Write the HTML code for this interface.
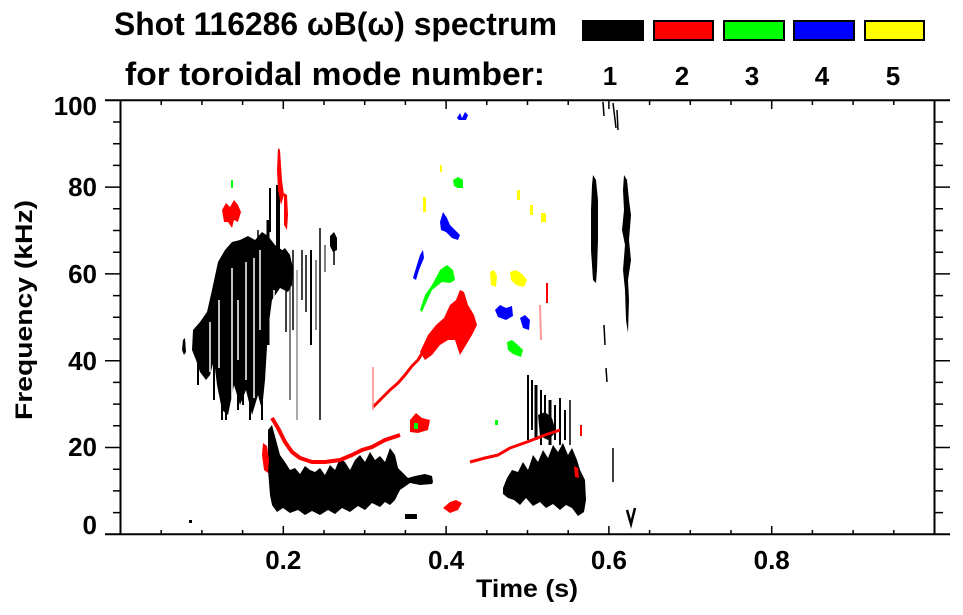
<!DOCTYPE html>
<html><head><meta charset="utf-8"><style>
html,body{margin:0;padding:0;background:#fff;}
svg{display:block;}
text{font-family:"Liberation Sans",Arial,Helvetica,sans-serif;font-weight:bold;fill:#000;}
</style></head><body>
<svg width="963" height="615" viewBox="0 0 963 615" xmlns="http://www.w3.org/2000/svg">
<rect width="963" height="615" fill="#fff"/>
<!-- Title -->
<text x="114" y="35" font-size="32" textLength="443" lengthAdjust="spacingAndGlyphs">Shot 116286 ωB(ω) spectrum</text>
<text x="125" y="85" font-size="32" textLength="420" lengthAdjust="spacingAndGlyphs">for toroidal mode number:</text>
<!-- Legend -->
<rect x="582" y="20" width="62" height="21" fill="#000"/>
<rect x="654" y="21" width="59" height="19" fill="#f00" stroke="#000" stroke-width="2"/>
<rect x="724" y="21" width="60" height="19" fill="#0f0" stroke="#000" stroke-width="2"/>
<rect x="794" y="21" width="60" height="19" fill="#00f" stroke="#000" stroke-width="2"/>
<rect x="865" y="21" width="59" height="19" fill="#ff0" stroke="#000" stroke-width="2"/>
<g font-size="26" text-anchor="middle">
<text x="610" y="85">1</text><text x="682" y="85">2</text><text x="752" y="85">3</text><text x="822" y="85">4</text><text x="893" y="85">5</text>
</g>

<!-- DATA -->
<g>
<!-- Black big streaky region C -->
<polygon fill="#000" points="193,330 200,322 207,312 212,290 218,262 225,250 232,242 240,240 248,236 255,240 262,232 268,236 275,245 282,250 288,258 292,280 288,292 280,288 272,300 268,330 265,380 262,410 258,395 252,415 246,390 240,405 234,385 228,415 222,410 217,385 214,360 210,375 206,380 200,372 196,360 192,350"/>
<polygon fill="#000" points="183,340 185,338 186,352 184,355 182,350"/>
<g stroke="#fff" stroke-width="1.5">
<line x1="210" y1="322" x2="210" y2="372"/><line x1="219" y1="300" x2="219" y2="368"/>
<line x1="232" y1="268" x2="232" y2="398"/><line x1="246" y1="262" x2="246" y2="380"/>
<line x1="254" y1="258" x2="254" y2="398"/><line x1="260" y1="250" x2="260" y2="330"/>
<line x1="238" y1="300" x2="238" y2="360"/><line x1="274" y1="290" x2="274" y2="330"/>
</g>
<g stroke="#000" fill="none">
<line x1="198" y1="350" x2="198" y2="385" stroke-width="2"/>
<line x1="214" y1="300" x2="214" y2="400" stroke-width="2"/>
<line x1="222" y1="380" x2="222" y2="420" stroke-width="2"/>
<line x1="226" y1="260" x2="226" y2="420" stroke-width="2"/>
<line x1="238" y1="390" x2="238" y2="410" stroke-width="2"/>
<line x1="243" y1="370" x2="243" y2="405" stroke-width="2"/>
<line x1="250" y1="390" x2="250" y2="420" stroke-width="2"/>
<line x1="262" y1="330" x2="262" y2="420" stroke-width="2"/>
<line x1="268" y1="220" x2="268" y2="345" stroke-width="3"/>
<line x1="270" y1="188" x2="270" y2="232" stroke-width="2"/>
<line x1="278" y1="185" x2="278" y2="252" stroke-width="4"/>
<line x1="286" y1="290" x2="286" y2="332" stroke-width="1.5"/>
<line x1="290" y1="265" x2="290" y2="400" stroke-width="1"/>
<line x1="293" y1="250" x2="293" y2="330" stroke-width="1.5"/>
<line x1="297" y1="270" x2="297" y2="420" stroke-width="1" stroke="#555"/>
<line x1="302" y1="250" x2="302" y2="300" stroke-width="1.5"/>
<line x1="306" y1="255" x2="306" y2="312" stroke-width="1.5"/>
<line x1="311" y1="250" x2="311" y2="345" stroke-width="2"/>
<line x1="316" y1="260" x2="316" y2="330" stroke-width="1"/>
<line x1="320" y1="228" x2="320" y2="420" stroke-width="1.5"/>
<line x1="325" y1="245" x2="325" y2="272" stroke-width="1"/>
<line x1="334" y1="240" x2="334" y2="265" stroke-width="1.5"/>
<line x1="258" y1="230" x2="258" y2="250" stroke-width="1.5"/>
</g>
<polygon fill="#000" points="280,252 285,248 290,255 293,268 292,285 288,292 282,288 280,270"/>
<polygon fill="#000" points="330,236 334,232 337,238 337,250 333,252 330,246"/>

<!-- Black low blob A -->
<polygon fill="#000" points="268,430 272,425 276,440 280,455 285,462 290,470 295,468 300,474 305,466 310,470 315,472 320,468 325,475 330,465 335,470 340,458 345,462 350,470 355,460 360,455 365,462 370,452 375,460 380,456 385,462 390,448 395,455 398,468 403,473 408,478 415,476 425,474 432,476 433,482 432,484 420,485 410,483 400,490 395,500 390,505 385,502 380,507 372,503 365,510 358,506 350,512 342,508 335,514 328,510 320,515 312,511 305,515 298,510 290,513 283,508 277,512 272,505 270,495 268,470"/>
<!-- Black low blob B -->
<polygon fill="#000" points="503,488 507,478 512,470 518,472 523,462 528,470 533,455 538,462 543,450 548,458 553,445 558,452 563,443 568,455 572,448 577,460 580,470 585,480 586,500 584,512 578,516 572,508 566,505 560,510 553,504 546,508 540,502 533,506 526,498 520,505 514,500 508,498 503,494"/>
<g stroke="#000" fill="none">
<line x1="528" y1="375" x2="528" y2="440" stroke-width="2"/>
<line x1="532" y1="380" x2="532" y2="430" stroke-width="2"/>
<line x1="536" y1="385" x2="536" y2="440" stroke-width="3"/>
<line x1="541" y1="390" x2="541" y2="445" stroke-width="2"/>
<line x1="545" y1="395" x2="545" y2="430" stroke-width="2"/>
<line x1="550" y1="400" x2="550" y2="445" stroke-width="3"/>
<line x1="555" y1="405" x2="555" y2="440" stroke-width="2"/>
<line x1="560" y1="398" x2="560" y2="445" stroke-width="2"/>
<line x1="565" y1="410" x2="565" y2="440" stroke-width="2"/>
<line x1="570" y1="400" x2="570" y2="445" stroke-width="1.5"/>
</g>
<polygon fill="#000" points="538,415 545,412 552,418 556,432 548,440 540,436"/>
<!-- small black bits -->
<rect x="405" y="514" width="12" height="5" fill="#000"/>
<rect x="189" y="520" width="3" height="3" fill="#000"/>

<!-- Black right side -->
<polygon fill="#000" points="593,175 596,180 598,200 598,240 597,270 596,283 593,280 591,250 591,210 592,185"/>
<polygon fill="#000" points="624,175 627,180 629,200 631,215 629,240 631,260 628,280 629,300 628,333 626,320 625,290 623,270 625,245 622,230 624,210 623,190"/>
<g stroke="#000" fill="none" stroke-width="1.5">
<line x1="603" y1="102" x2="604" y2="116"/>
<line x1="613" y1="103" x2="616" y2="128"/>
<line x1="617" y1="110" x2="618" y2="130"/>
<line x1="604" y1="325" x2="605" y2="345"/>
<line x1="606" y1="368" x2="607" y2="382"/>
<line x1="613" y1="448" x2="613" y2="482"/>
<path d="M627,510 L631,524 L635,508" stroke-width="2.5"/>
</g>

<!-- RED -->
<g fill="#f00">
<polygon points="222,210 226,203 230,207 234,200 238,205 241,212 238,222 234,220 232,228 228,222 224,222"/>
<polygon points="278,148 280,150 281,165 282,180 284,195 281,205 278,190 277,170"/>
<polygon points="284,193 287,195 288,215 287,230 284,225"/>
<polygon points="263,443 267,446 269,460 268,473 264,470 262,455"/>
<polygon points="410,420 416,413 422,418 430,420 428,430 418,433 410,432"/>
<polygon points="420,352 428,335 436,325 444,318 450,305 456,300 460,290 464,292 468,305 474,315 477,325 472,335 466,345 460,355 455,340 448,340 440,345 432,355 425,360"/>
<polygon points="443,508 450,502 456,500 462,503 458,510 450,513"/>
<polygon points="574,466 578,468 579,478 575,477"/>
<rect x="546" y="283" width="2" height="20"/>
</g>
<g stroke="#f00" fill="none" stroke-linejoin="round">
<path d="M272,418 L278,428 L285,442 L292,452 L300,458 L312,462 L325,462 L340,460 L352,455 L362,450 L372,447 L385,440 L400,435" stroke-width="4"/>
<path d="M373,407 L382,398 L390,390 L398,383 L405,375 L412,366 L418,360 L424,350" stroke-width="3"/>
<path d="M470,462 L485,458 L498,455 L510,448 L527,442 L545,435 L560,430" stroke-width="3"/>
<line x1="373" y1="367" x2="373" y2="410" stroke="#f88" stroke-width="1.5"/>
<line x1="540" y1="305" x2="541" y2="340" stroke="#f99" stroke-width="2"/>
<line x1="581" y1="425" x2="581" y2="436" stroke-width="2"/>
</g>

<!-- GREEN -->
<g fill="#0f0">
<polygon points="420,310 425,295 432,285 440,270 447,265 453,270 455,280 450,283 442,282 432,290 425,305 422,312"/>
<polygon points="453,180 458,177 463,180 463,188 458,188 454,186"/>
<polygon points="507,342 512,340 518,345 523,350 521,357 513,354 508,350"/>
<rect x="231" y="180" width="2" height="8"/>
<rect x="414" y="423" width="4" height="6"/>
<rect x="495" y="420" width="3" height="5"/>
</g>
<!-- BLUE -->
<g fill="#00f">
<polygon points="440,222 443,212 447,218 450,225 455,230 460,235 458,240 452,238 446,232 441,230"/>
<polygon points="413,278 416,268 420,255 423,250 424,258 419,270 416,280"/>
<polygon points="495,310 500,305 506,308 512,306 513,316 506,320 498,317"/>
<polygon points="520,318 525,315 530,320 529,330 523,328"/>
<polygon points="457,118 460,113 462,118 465,112 468,115 466,120 459,120"/>
</g>
<!-- YELLOW -->
<g fill="#ff0">
<polygon points="490,272 494,270 497,276 496,287 491,285"/>
<polygon points="510,272 516,270 522,274 527,280 524,287 516,285 511,280"/>
<rect x="517" y="190" width="3" height="10"/>
<rect x="530" y="205" width="3" height="10"/>
<rect x="541" y="213" width="5" height="9"/>
<rect x="423" y="197" width="3" height="15"/>
<rect x="440" y="165" width="2" height="7"/>
</g>
</g>

<!-- AXES -->
<g stroke="#000" fill="none" stroke-width="2">
<path d="M105,100.3 H950 M105,534.3 H950 M120.5,100.3 V534.3 M934.5,100.3 V534.3"/>
</g>
<g stroke="#000" fill="none" stroke-width="1.5">
<path d="M105,447.5H121 M105,360.7H121 M105,273.9H121 M105,187.1H121 M934.5,447.5H950 M934.5,360.7H950 M934.5,273.9H950 M934.5,187.1H950"/>
<path d="M113,512.6H121 M113,490.9H121 M113,469.2H121 M113,425.8H121 M113,404.1H121 M113,382.4H121 M113,339H121 M113,317.3H121 M113,295.6H121 M113,252.2H121 M113,230.5H121 M113,208.8H121 M113,165.4H121 M113,143.7H121 M113,122H121
M934.5,512.6H943 M934.5,490.9H943 M934.5,469.2H943 M934.5,425.8H943 M934.5,404.1H943 M934.5,382.4H943 M934.5,339H943 M934.5,317.3H943 M934.5,295.6H943 M934.5,252.2H943 M934.5,230.5H943 M934.5,208.8H943 M934.5,165.4H943 M934.5,143.7H943 M934.5,122H943"/>
<path d="M161.2,534.3V530 M201.9,534.3V530 M242.6,534.3V530 M283.3,534.3V526 M324,534.3V530 M364.7,534.3V530 M405.4,534.3V530 M446.1,534.3V526 M486.8,534.3V530 M527.5,534.3V530 M568.2,534.3V530 M608.9,534.3V526 M649.6,534.3V530 M690.3,534.3V530 M731,534.3V530 M771.7,534.3V526 M812.4,534.3V530 M853.1,534.3V530 M893.8,534.3V530"/>
<path d="M161.2,100.3V105 M201.9,100.3V105 M242.6,100.3V105 M283.3,100.3V109 M324,100.3V105 M364.7,100.3V105 M405.4,100.3V105 M446.1,100.3V109 M486.8,100.3V105 M527.5,100.3V105 M568.2,100.3V105 M608.9,100.3V109 M649.6,100.3V105 M690.3,100.3V105 M731,100.3V105 M771.7,100.3V109 M812.4,100.3V105 M853.1,100.3V105 M893.8,100.3V105"/>
</g>

<!-- Tick labels -->
<g font-size="26" text-anchor="end">
<text x="97" y="115">100</text>
<text x="97" y="196">80</text>
<text x="97" y="283">60</text>
<text x="97" y="370">40</text>
<text x="97" y="456">20</text>
<text x="97" y="534">0</text>
</g>
<g font-size="26" text-anchor="middle">
<text x="283.3" y="569">0.2</text>
<text x="446.1" y="569">0.4</text>
<text x="608.9" y="569">0.6</text>
<text x="771.7" y="569">0.8</text>
</g>
<text x="476" y="597" font-size="25" textLength="102" lengthAdjust="spacingAndGlyphs">Time (s)</text>
<text transform="translate(32,310) rotate(-90)" font-size="24" text-anchor="middle" textLength="220" lengthAdjust="spacingAndGlyphs">Frequency (kHz)</text>
</svg>
</body></html>
